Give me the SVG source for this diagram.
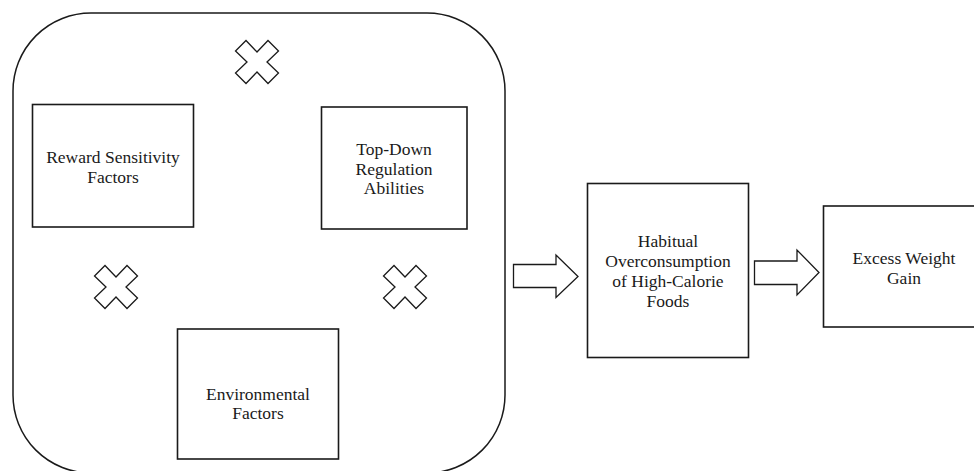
<svg xmlns="http://www.w3.org/2000/svg" width="974" height="471" viewBox="0 0 974 471">
<defs>
<style>
.box{fill:#fff;stroke:#1a1a1a;stroke-width:1.6}
.outer{fill:none;stroke:#1a1a1a;stroke-width:1.5}
.cross{fill:#fff;stroke:#1a1a1a;stroke-width:1.3;stroke-linejoin:miter}
.arrow{fill:#fff;stroke:#1a1a1a;stroke-width:1.3}
.t{font-family:"Liberation Serif","Times New Roman",serif;font-size:17.5px;fill:#1a1a1a;text-anchor:middle}
</style>
<polygon id="crossShape" points="0,-10 11,-21.5 21.5,-11 10,0 21.5,11 11,21.5 0,10 -11,21.5 -21.5,11 -10,0 -21.5,-11 -11,-21.5"/>
</defs>
<rect width="974" height="471" fill="#fff"/>
<g id="group-outer">
<rect class="outer" x="13" y="13" width="492" height="460" rx="78" ry="78"/>
</g>
<g id="crosses">
<use href="#crossShape" class="cross" transform="translate(257,62)"/>
<use href="#crossShape" class="cross" transform="translate(116,287)"/>
<use href="#crossShape" class="cross" transform="translate(405,287)"/>
</g>
<g id="node-reward">
<rect class="box" x="32.5" y="104.5" width="161" height="122.5"/>
<text class="t" x="113" y="162.5">Reward Sensitivity</text>
<text class="t" x="113" y="182.5">Factors</text>
</g>
<g id="node-topdown">
<rect class="box" x="321.5" y="107" width="145.5" height="122"/>
<text class="t" x="394" y="155">Top-Down</text>
<text class="t" x="394" y="174.5">Regulation</text>
<text class="t" x="394" y="194">Abilities</text>
</g>
<g id="node-environmental">
<rect class="box" x="177.5" y="329" width="161" height="130"/>
<text class="t" x="258" y="399.5">Environmental</text>
<text class="t" x="258" y="418.5">Factors</text>
</g>
<g id="node-habitual">
<rect class="box" x="587.5" y="183.5" width="161" height="174"/>
<text class="t" x="668" y="246.5">Habitual</text>
<text class="t" x="668" y="267">Overconsumption</text>
<text class="t" x="668" y="286.5">of High-Calorie</text>
<text class="t" x="668" y="306.5">Foods</text>
</g>
<g id="node-excess">
<rect class="box" x="823.5" y="206" width="162" height="121"/>
<text class="t" x="904" y="264">Excess Weight</text>
<text class="t" x="904" y="283.5">Gain</text>
</g>
<g id="connectors">
<polygon class="arrow" points="513.5,264.5 556,264.5 556,255 578,276.5 556,297.5 556,287.5 513.5,287.5"/>
<polygon class="arrow" points="754.5,261 797,261 797,250 819,272.5 797,295 797,284.5 754.5,284.5"/>
</g>
</svg>
